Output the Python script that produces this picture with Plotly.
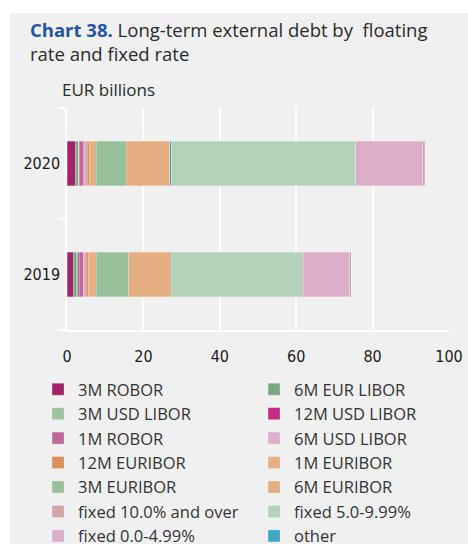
import plotly.graph_objects as go

# Long-term external debt by interest-rate type, EUR billions
years = ["2019", "2020"]

# series in stacking order (left to right inside each bar)
series_names = [
    "3M ROBOR", "6M EUR LIBOR", "3M USD LIBOR", "12M USD LIBOR",
    "1M ROBOR", "6M USD LIBOR", "12M EURIBOR", "1M EURIBOR",
    "3M EURIBOR", "6M EURIBOR", "other",
    "fixed 5.0-9.99%", "fixed 0.0-4.99%", "fixed 10.0% and over",
]

# values per series: [2019, 2020]
robor_3m = [1.7, 2.2]
eur_libor_6m = [0.8, 0.8]
usd_libor_3m = [0.4, 0.1]
usd_libor_12m = [0.3, 0.3]
robor_1m = [1.1, 1.0]
usd_libor_6m = [0.8, 0.9]
euribor_12m = [0.6, 0.5]
euribor_1m = [1.9, 1.8]
euribor_3m = [8.6, 7.9]
euribor_6m = [11.1, 11.4]
other = [0.1, 0.45]
fixed_5_10 = [34.4, 48.3]
fixed_0_5 = [12.2, 17.5]
fixed_10_plus = [0.35, 0.45]

series_values = [
    robor_3m, eur_libor_6m, usd_libor_3m, usd_libor_12m,
    robor_1m, usd_libor_6m, euribor_12m, euribor_1m,
    euribor_3m, euribor_6m, other,
    fixed_5_10, fixed_0_5, fixed_10_plus,
]

series_colors = [
    "#a3226b", "#7aa97f", "#9cc49e", "#c42a84",
    "#c0689b", "#dcaecb", "#df8f58", "#e6b084",
    "#98c09b", "#e4ae80", "#3ea9c4",
    "#b4d1b9", "#dcaec7", "#d4a3a5",
]

# legend reading order (two columns, row by row)
legend_order = [
    "3M ROBOR", "6M EUR LIBOR", "3M USD LIBOR", "12M USD LIBOR",
    "1M ROBOR", "6M USD LIBOR", "12M EURIBOR", "1M EURIBOR",
    "3M EURIBOR", "6M EURIBOR", "fixed 10.0% and over", "fixed 5.0-9.99%",
    "fixed 0.0-4.99%", "other",
]

x_ticks = [0, 20, 40, 60, 80, 100]

narrow = "DejaVu Sans Condensed, Roboto Condensed, Roboto, sans-serif"
body = "Open Sans, Noto Sans, sans-serif"

fig = go.Figure()
for name, vals, col in zip(series_names, series_values, series_colors):
    fig.add_trace(go.Bar(
        y=years, x=vals, name=name, orientation="h",
        marker=dict(color=col, line=dict(color="rgba(255,255,255,0.5)", width=0.5)),
        width=0.4,
        legendrank=legend_order.index(name) + 1,
    ))

# plot area in pixels: x 67..449.5, y 108..330
L, R, T, B = 67, 18.5, 108, 214
PW, PH = 468 - L - R, 544 - T - B


def px_x(x):
    return (x - L) / PW


def px_y(y):
    return (544 - B - y) / PH


fig.update_layout(
    width=468, height=544,
    margin=dict(l=L, r=R, t=T, b=B, pad=0, autoexpand=False),
    paper_bgcolor="white",
    plot_bgcolor="rgba(0,0,0,0)",
    barmode="stack",
    showlegend=True,
    font=dict(family=body, color="#222"),
    shapes=[dict(
        type="rect", xref="paper", yref="paper", layer="below",
        x0=px_x(10), x1=px_x(480), y0=px_y(560), y1=px_y(13),
        fillcolor="#f0f0f0", line=dict(width=0),
    )],
    xaxis=dict(
        range=[0, 100], tickvals=x_ticks, ticktext=[str(v) for v in x_ticks],
        showgrid=True, gridcolor="white", gridwidth=1.5,
        zeroline=False, showline=True, linecolor="white", linewidth=1.5,
        ticks="", tickfont=dict(family=narrow, size=16, color="#1a1a1a"),
        ticklabelstandoff=11, fixedrange=True,
    ),
    yaxis=dict(
        type="category", categoryorder="array", categoryarray=years,
        showline=True, linecolor="white", linewidth=1.5,
        ticks="outside", tickson="boundaries", ticklen=7,
        tickcolor="white", tickwidth=1.5, showgrid=False,
        tickfont=dict(family=narrow, size=16, color="#1a1a1a"),
        ticklabelstandoff=2, fixedrange=True,
    ),
    legend=dict(
        orientation="h", x=px_x(38), y=px_y(372), xanchor="left", yanchor="top",
        entrywidth=171, entrywidthmode="pixels",
        font=dict(family=body, size=16.5, color="#333"),
        bgcolor="rgba(0,0,0,0)", traceorder="normal",
        itemclick=False, itemdoubleclick=False,
    ),
    annotations=[
        dict(
            xref="paper", yref="paper", x=px_x(28), y=px_y(42),
            xanchor="left", yanchor="middle", align="left", showarrow=False,
            text="<b><span style='color:#1f55a5'>Chart 38.</span></b> "
                 "Long-term external debt by  floating<br>rate and fixed rate",
            font=dict(family=body, size=18.5, color="#2a2a2a"),
        ),
        dict(
            xref="paper", yref="paper", x=px_x(60), y=px_y(89),
            xanchor="left", yanchor="middle", showarrow=False,
            text="EUR billions",
            font=dict(family=body, size=17, color="#2a2a2a"),
        ),
    ],
)

fig.write_html("out.html")
